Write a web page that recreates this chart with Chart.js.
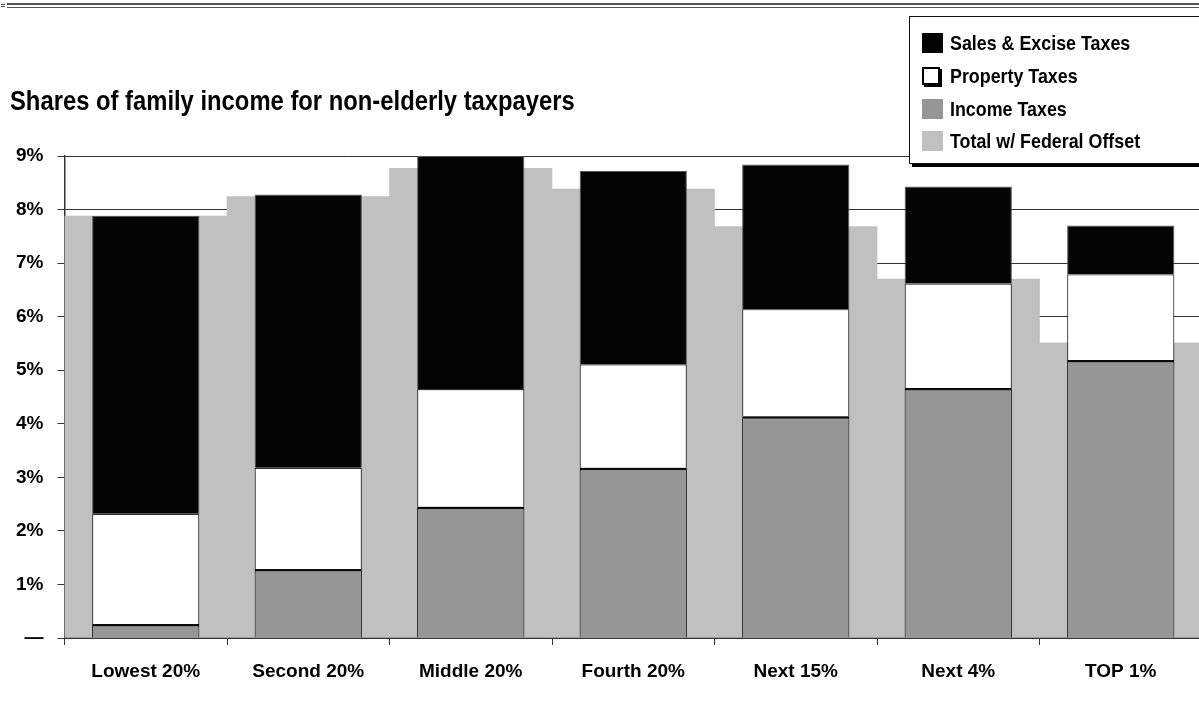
<!DOCTYPE html>
<html>
<head>
<meta charset="utf-8">
<title>Shares of family income for non-elderly taxpayers</title>
<script src="https://cdn.jsdelivr.net/npm/chart.js@4.4.1/dist/chart.umd.min.js"></script>
<style>
  html, body { margin: 0; padding: 0; background: #fff; overflow: hidden; }
  body {
    width: 1199px; height: 702px; position: relative;
    font-family: 'Liberation Sans', Arial, sans-serif;
    font-weight: bold; color: #000;
  }
  #frame { position: absolute; left: 0; top: 0; width: 1199px; height: 702px; overflow: hidden; }
  #chart { position: absolute; left: 0; top: 0; }
  .rule { position: absolute; left: 7px; right: 0; height: 2px; background: #555; }
  .narrow { display: inline-block; transform: scaleX(0.85); transform-origin: 0 50%; white-space: nowrap; }
  #title { position: absolute; left: 10px; top: 87px; font-size: 28px; line-height: 28px; }
  #legend {
    position: absolute; left: 909px; top: 16px; width: 300px; height: 148px;
    background: #fff; border: 1px solid #111; box-shadow: 3px 3px 0 #000;
    box-sizing: border-box; padding-top: 10px;
  }
  .item { height: 32.7px; display: flex; align-items: center; padding-left: 12px; font-size: 21px; white-space: nowrap; }
  .swatch { width: 21px; height: 20px; margin-right: 7px; box-sizing: border-box; flex: none; }
</style>
</head>
<body>
<div id="frame">
  <canvas id="chart" width="1203" height="702"></canvas>
  <div class="rule" style="top:3px"></div>
  <div class="rule" style="top:7px; height:1px"></div>
  <div class="rule" style="top:4px; left:1px; right:auto; width:4px; height:1px"></div>
  <div class="rule" style="top:6px; left:1px; right:auto; width:4px; height:1px"></div>
  <div id="title"><span class="narrow">Shares of family income for non-elderly taxpayers</span></div>
  <div id="legend"></div>
</div>
<script>
// groups along the x axis
const categories = ['Lowest 20%', 'Second 20%', 'Middle 20%', 'Fourth 20%', 'Next 15%', 'Next 4%', 'TOP 1%'];

// tax shares, % of family income
const incomeTaxes = [0.26, 1.29, 2.45, 3.18, 4.14, 4.67, 5.19];
const propertyTaxes = [2.06, 1.89, 2.20, 1.93, 2.00, 1.95, 1.60];
const salesExciseTaxes = [5.56, 5.10, 4.35, 3.61, 2.70, 1.81, 0.91];
const totalWithOffset = [7.88, 8.24, 8.77, 8.38, 7.68, 6.70, 5.51];

// y axis ticks (0 shows as a dash)
const yTicks = [0, 1, 2, 3, 4, 5, 6, 7, 8, 9];

const FONT = "'Liberation Sans', Arial, sans-serif";
const AXIS = '#333';

const datasets = [
    {
        label: 'Income Taxes', data: incomeTaxes, stack: 'taxes',
        backgroundColor: '#969696', borderColor: '#0a0a0a',
        borderWidth: { top: 2.5, left: 1, right: 1, bottom: 0 },
        barPercentage: 0.66, categoryPercentage: 1, grouped: false
    },
    {
        label: 'Property Taxes', data: propertyTaxes, stack: 'taxes',
        backgroundColor: '#fff', borderColor: '#333', borderWidth: 1.2,
        barPercentage: 0.66, categoryPercentage: 1, grouped: false
    },
    {
        label: 'Sales & Excise Taxes', data: salesExciseTaxes, stack: 'taxes',
        backgroundColor: '#040404', borderColor: '#555', borderWidth: 1,
        barPercentage: 0.66, categoryPercentage: 1, grouped: false
    },
    {
        label: 'Total w/ Federal Offset', data: totalWithOffset, stack: 'offset',
        backgroundColor: '#c0c0c0', borderWidth: 0,
        barPercentage: 1, categoryPercentage: 1, grouped: false
    }
];

const ctx = document.getElementById('chart').getContext('2d');
const chart = new Chart(ctx, {
    type: 'bar',
    data: { labels: categories, datasets: datasets },
    options: {
        responsive: false,
        animation: false,
        devicePixelRatio: 1,
        layout: { padding: { top: 156, right: 1, bottom: 0, left: 0 } },
        plugins: { legend: { display: false }, tooltip: { enabled: false } },
        scales: {
            x: {
                grid: { display: true, drawOnChartArea: false, offset: true, tickLength: 7, color: AXIS },
                border: { color: AXIS, width: 2 },
                ticks: { color: '#000', padding: 15, font: { family: FONT, size: 19, weight: 'bold' } },
                afterFit: (scale) => { scale.height = 64; }
            },
            y: {
                stacked: true,
                min: 0,
                max: yTicks[yTicks.length - 1],
                afterBuildTicks: (scale) => { scale.ticks = yTicks.map(v => ({ value: v })); },
                grid: { color: AXIS, lineWidth: 1, tickLength: 7 },
                border: { color: AXIS, width: 1.5 },
                ticks: {
                    color: '#000', padding: 14,
                    font: { family: FONT, size: 19, weight: 'bold' },
                    callback: (v) => v === 0 ? '\u2014' : v + '%'
                },
                afterFit: (scale) => { scale.width = 64.5; }
            }
        }
    }
});

// legend box, top to bottom as in the stack
const legendOrder = [2, 1, 0, 3];
const legendBox = document.getElementById('legend');
legendOrder.forEach(i => {
    const ds = chart.data.datasets[i];
    const row = document.createElement('div');
    row.className = 'item';
    const sw = document.createElement('span');
    sw.className = 'swatch';
    sw.style.background = ds.backgroundColor;
    if (ds.backgroundColor === '#fff') {
        sw.style.border = '2px solid #000';
        sw.style.boxShadow = '2px 2px 0 #000';
        sw.style.width = '18px';
        sw.style.height = '18px';
        sw.style.marginRight = '10px';
    }
    const txt = document.createElement('span');
    txt.className = 'narrow';
    txt.textContent = ds.label;
    row.appendChild(sw);
    row.appendChild(txt);
    legendBox.appendChild(row);
});
</script>
</body>
</html>
